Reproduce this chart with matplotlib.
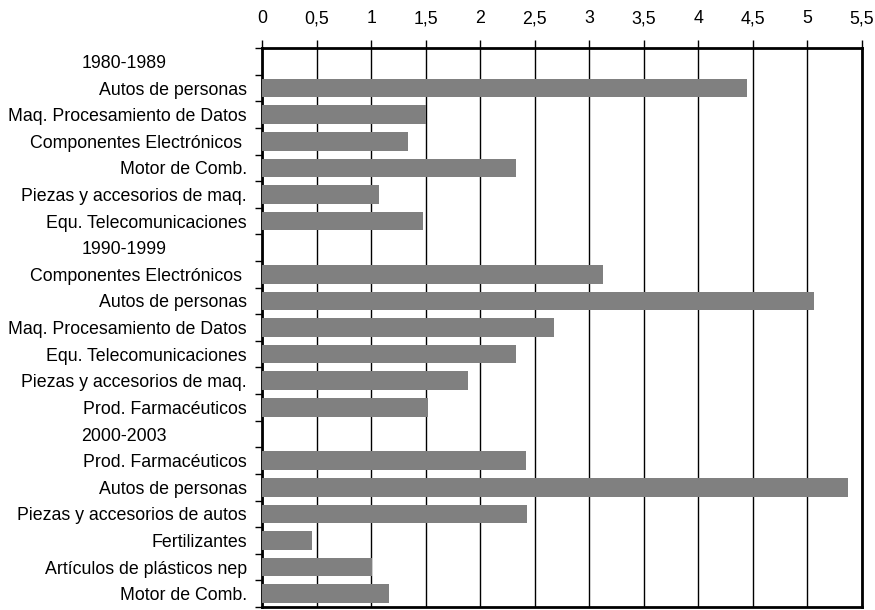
import matplotlib.pyplot as plt
import numpy as np
from matplotlib.ticker import FuncFormatter, MultipleLocator, FixedLocator
from matplotlib.transforms import ScaledTranslation

plt.rcParams['font.family'] = ['Liberation Sans', 'DejaVu Sans']

categories = [
    '1980-1989',
    'Autos de personas',
    'Maq. Procesamiento de Datos',
    'Componentes Electrónicos ',
    'Motor de Comb.',
    'Piezas y accesorios de maq.',
    'Equ. Telecomunicaciones',
    '1990-1999',
    'Componentes Electrónicos ',
    'Autos de personas',
    'Maq. Procesamiento de Datos',
    'Equ. Telecomunicaciones',
    'Piezas y accesorios de maq.',
    'Prod. Farmacéuticos',
    '2000-2003',
    'Prod. Farmacéuticos',
    'Autos de personas',
    'Piezas y accesorios de autos',
    'Fertilizantes',
    'Artículos de plásticos nep',
    'Motor de Comb.',
]
values = [
    np.nan, 4.45, 1.50, 1.34, 2.33, 1.07, 1.48,
    np.nan, 3.13, 5.06, 2.68, 2.33, 1.89, 1.52,
    np.nan, 2.42, 5.37, 2.43, 0.46, 1.01, 1.16,
]
headers = ['1980-1989', '1990-1999', '2000-2003']

fig = plt.figure(figsize=(8.75, 6.10), dpi=100)
ax = fig.add_axes([0.2994, 0.005, 0.6857, 0.916])

y = np.arange(len(categories))
vals = np.nan_to_num(np.array(values, dtype=float))
ax.barh(y, vals, height=0.7, color='#808080', zorder=3)

ax.set_xlim(0, 5.5)
ax.set_ylim(len(categories) - 0.5, -0.5)

ax.xaxis.set_major_locator(MultipleLocator(0.5))
ax.xaxis.set_major_formatter(FuncFormatter(lambda v, p: ('%g' % v).replace('.', ',')))
ax.xaxis.tick_top()
ax.tick_params(axis='x', direction='out', length=6, width=1, pad=9, labelsize=12.8)
ax.grid(axis='x', color='black', linewidth=1, zorder=1)

ax.set_yticks(y)
ax.set_yticklabels(categories)
ax.yaxis.set_minor_locator(FixedLocator(np.arange(-0.5, len(categories), 1)))
ax.tick_params(axis='y', which='major', length=0, pad=11, labelsize=12.8)
ax.tick_params(axis='y', which='minor', direction='out', length=5, width=1)

for lbl in ax.get_yticklabels():
    if lbl.get_text() in headers:
        lbl.set_transform(lbl.get_transform() + ScaledTranslation(-0.8, 0, fig.dpi_scale_trans))

for s in ax.spines.values():
    s.set_linewidth(2)

fig.savefig('out.png', dpi=100)
